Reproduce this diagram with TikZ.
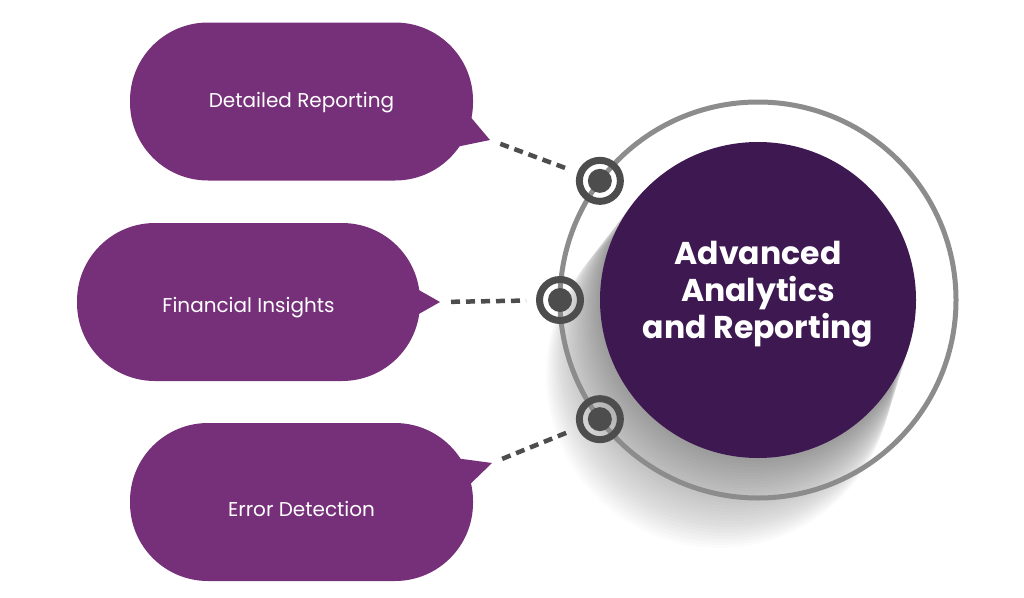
\documentclass[tikz,border=0pt]{standalone}
\usepackage{fontspec}
\setmainfont{Poppins}
\usetikzlibrary{positioning,calc}
\definecolor{cBub}{HTML}{76307A}
\definecolor{cCore}{HTML}{3E1951}
\definecolor{cRing}{HTML}{8C8C8C}
\definecolor{cDot}{HTML}{4D4D4D}
\tikzset{
  bubble/.style={fill=cBub,rounded corners=78pt,minimum width=343pt,minimum height=158pt,inner sep=0pt,
    text=white,font=\fontsize{20}{24}\selectfont,text depth=5pt,text height=#1},
  bubble/.default=15pt,
  pin/.style={circle,draw=cDot,line width=7pt,minimum size=41pt,inner sep=0pt},
  link/.style={draw=cDot,line width=4.5pt,dash pattern=on 9pt off 6pt,shorten <=11pt,shorten >=10pt},
}

\begin{document}
\begin{tikzpicture}[x=1pt,y=-1pt]
    \useasboundingbox (0,0) rectangle (1024,597);
    \coordinate (hub) at (758,300);
    % soft shadow down-left of the core
    \foreach \i in {1,...,30}{
      \fill[black,opacity=0.015] ($(hub)+(-1.3*\i,2.5*\i)$) circle[radius=158pt+0.5pt*\i];}
    % ring and core
    \node[circle,draw=cRing,line width=5pt,minimum size=396pt,inner sep=0pt,outer sep=0pt] (ring) at (hub) {};
    \node[circle,fill=cCore,minimum size=316pt,inner sep=0pt] (core) at (hub) {};
    \node[text=white,align=center,font=\fontsize{31.5}{37}\selectfont\bfseries] (title) at ($(hub)+(0,-6)$)
      {Advanced\\Analytics\\and Reporting};
    % bubbles with their tails
    \node[bubble=17pt] (detail) at (301.5,101.5) {Detailed Reporting};
    \node[bubble=25pt] (insight) at (248.5,302) {Financial Insights};
    \node[bubble=33pt] (error) at (301.5,502) {Error Detection};
    \coordinate (t1) at (490,140);
    \coordinate (t2) at (440,302);
    \coordinate (t3) at (492,463);
    \fill[cBub] (463,108) -- (t1) -- (456,147) -- cycle;
    \fill[cBub] (410,285) -- (t2) -- (410,319) -- cycle;
    \fill[cBub] (455,458) -- (t3) -- (462,492) -- cycle;
    % pins on the ring
    \foreach \a/\n in {143.5/1,180/2,217/3}{
      \node[pin] (d\n) at (ring.\a) {};
      \fill[cDot] (d\n) circle[radius=12pt];}
    % dashed links
    \foreach \n in {1,2,3}{
      \draw[link] (t\n) -- (d\n);}
  \end{tikzpicture}
\end{document}
